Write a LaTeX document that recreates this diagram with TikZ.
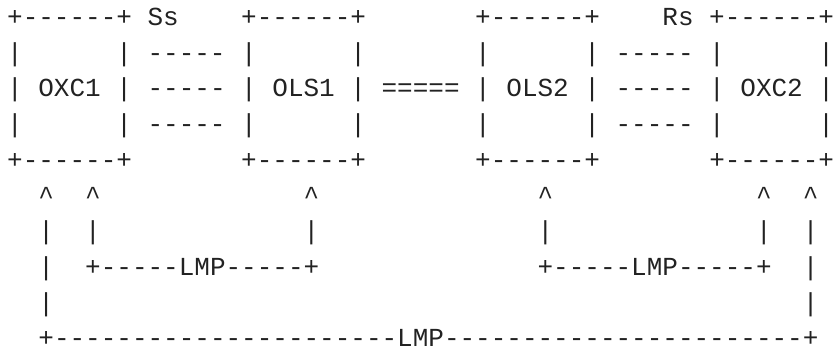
\documentclass[tikz,border=0pt]{standalone}
\usepackage{fontspec}
\setmonofont{Liberation Mono}
\definecolor{ink}{RGB}{34,34,34}
\newcommand\gap[1]{\hspace*{#1\dimexpr 0.6em\relax}}
\newcommand\ca{\textasciicircum}
\tikzset{
  asciiline/.style={anchor=base west, inner sep=0pt, outer sep=0pt, text=ink,
    text depth=0pt, font=\ttfamily\fontsize{26}{26}\selectfont}
}
\begin{document}
\begin{tikzpicture}[x=1pt,y=1pt]
\useasboundingbox (0,0) rectangle (835,350);
% baseline of line k: about 25.6 + 35.7*(k-1) from the top
\node[asciiline] (l1)  at (7.2,{350-25.6}) {+------+\gap{1}Ss\gap{4}+------+\gap{7}+------+\gap{4}Rs\gap{1}+------+};
\node[asciiline] (l2)  at (7.2,{350-61.3}) {|\gap{6}|\gap{1}-----\gap{1}|\gap{6}|\gap{7}|\gap{6}|\gap{1}-----\gap{1}|\gap{6}|};
\node[asciiline] (l3)  at (7.2,{350-97.0}) {|\gap{1}OXC1\gap{1}|\gap{1}-----\gap{1}|\gap{1}OLS1\gap{1}|\gap{1}=====\gap{1}|\gap{1}OLS2\gap{1}|\gap{1}-----\gap{1}|\gap{1}OXC2\gap{1}|};
\node[asciiline] (l4)  at (7.2,{350-132.7}) {|\gap{6}|\gap{1}-----\gap{1}|\gap{6}|\gap{7}|\gap{6}|\gap{1}-----\gap{1}|\gap{6}|};
\node[asciiline] (l5)  at (7.2,{350-168.4}) {+------+\gap{7}+------+\gap{7}+------+\gap{7}+------+};
\node[asciiline] (l6)  at (7.2,{350-204.1}) {\gap{2}\ca\gap{2}\ca\gap{13}\ca\gap{14}\ca\gap{13}\ca\gap{2}\ca};
\node[asciiline] (l7)  at (7.2,{350-239.8}) {\gap{2}|\gap{2}|\gap{13}|\gap{14}|\gap{13}|\gap{2}|};
\node[asciiline] (l8)  at (7.2,{350-275.5}) {\gap{2}|\gap{2}+-----LMP-----+\gap{14}+-----LMP-----+\gap{2}|};
\node[asciiline] (l9)  at (7.2,{350-311.2}) {\gap{2}|\gap{48}|};
\node[asciiline] (l10) at (7.2,{350-346.5}) {\gap{2}+----------------------LMP-----------------------+};
\end{tikzpicture}
\end{document}
